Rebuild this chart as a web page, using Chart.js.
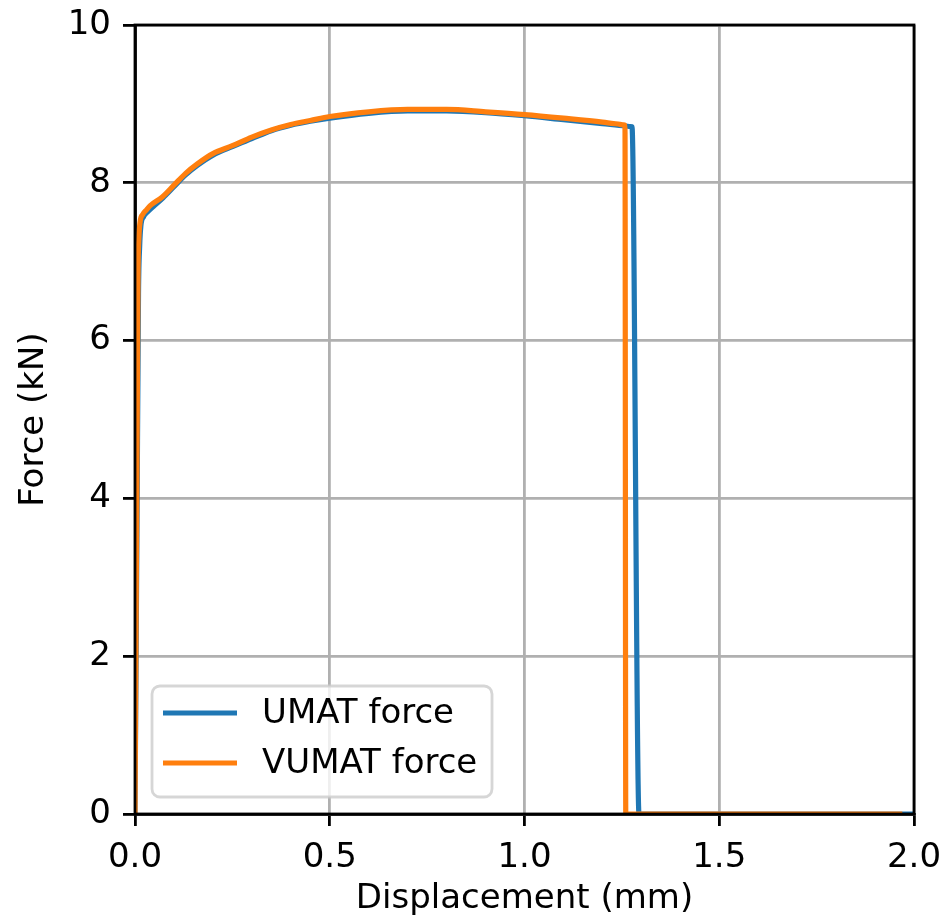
<!DOCTYPE html>
<html>
<head>
<meta charset="utf-8">
<script src="https://cdn.jsdelivr.net/npm/chart.js@4/dist/chart.umd.min.js"></script>
<style>
  html, body { margin: 0; padding: 0; background: #fff; }
  canvas { display: block; }
</style>
</head>
<body>
<canvas id="forceChart" width="949" height="920"></canvas>
<script>
// Force-displacement curves, UMAT vs VUMAT
const umatDisp = [0, 0.005, 0.009, 0.012, 0.015, 0.022, 0.032, 0.047, 0.072, 0.1, 0.13, 0.16, 0.2, 0.25, 0.3, 0.35, 0.4, 0.45, 0.5, 0.6, 0.7, 0.8, 0.9, 1.0, 1.1, 1.2, 1.26, 1.272, 1.276, 1.294, 2.0];
const umatForce = [0, 3.6, 6.6, 7.2, 7.45, 7.57, 7.63, 7.7, 7.81, 7.95, 8.1, 8.22, 8.35, 8.46, 8.56, 8.66, 8.73, 8.78, 8.82, 8.88, 8.91, 8.91, 8.89, 8.85, 8.8, 8.75, 8.72, 8.712, 8.71, 0, 0];

const vumatDisp = [0, 0.004, 0.008, 0.010, 0.013, 0.02, 0.03, 0.039, 0.07, 0.1, 0.13, 0.16, 0.2, 0.25, 0.3, 0.35, 0.4, 0.45, 0.5, 0.6, 0.7, 0.8, 0.9, 1.0, 1.1, 1.2, 1.245, 1.255, 1.258, 1.26, 1.97];
const vumatForce = [0, 3.5, 6.9, 7.3, 7.5, 7.6, 7.66, 7.71, 7.82, 7.97, 8.12, 8.24, 8.37, 8.47, 8.58, 8.67, 8.74, 8.79, 8.84, 8.9, 8.93, 8.93, 8.9, 8.865, 8.82, 8.77, 8.74, 8.733, 8.73, 0, 0];

const xTicks = [0, 0.5, 1.0, 1.5, 2.0];
const yTicks = [0, 2, 4, 6, 8, 10];

const seriesLabels = ['UMAT force', 'VUMAT force'];
const seriesColors = ['#1f77b4', '#ff7f0e'];

const toPoints = (xs, ys) => xs.map((x, i) => ({ x: x, y: ys[i] }));

const FONT = 'DejaVu Sans';
const LW = 2.8;

// matplotlib-style frame and inside legend
const framePlugin = {
    id: 'frame',
    afterDatasetsDraw(chart) {
        const { ctx, chartArea: a } = chart;
        ctx.save();
        ctx.strokeStyle = '#000';
        ctx.lineWidth = LW;
        ctx.strokeRect(a.left, a.top, a.right - a.left, a.bottom - a.top);

        // legend box
        const bx = 152, by = 686, bw = 340, bh = 111, r = 8;
        ctx.beginPath();
        ctx.roundRect(bx, by, bw, bh, r);
        ctx.fillStyle = 'rgba(255,255,255,0.8)';
        ctx.fill();
        ctx.strokeStyle = 'rgba(204,204,204,0.8)';
        ctx.lineWidth = LW;
        ctx.stroke();

        ctx.font = '34px "' + FONT + '"';
        ctx.textBaseline = 'middle';
        ctx.textAlign = 'left';
        seriesLabels.forEach((label, i) => {
            const ly = 713 + i * 50;
            ctx.beginPath();
            ctx.moveTo(163, ly);
            ctx.lineTo(237, ly);
            ctx.strokeStyle = seriesColors[i];
            ctx.lineWidth = 5.2;
            ctx.stroke();
            ctx.fillStyle = '#000';
            ctx.fillText(label, 262, ly + 1);
        });
        ctx.restore();
    }
};

const axisCommon = {
    type: 'linear',
    grid: {
        color: '#b0b0b0',
        lineWidth: LW,
        tickColor: '#000',
        tickWidth: LW,
        tickLength: 12
    },
    border: { display: true, color: '#000', width: LW },
    ticks: {
        color: '#000',
        font: { family: FONT, size: 34 },
        padding: 12
    },
    title: {
        display: true,
        color: '#000',
        font: { family: FONT, size: 34 }
    }
};

new Chart(document.getElementById('forceChart'), {
    type: 'line',
    data: {
        datasets: [
            {
                label: seriesLabels[0],
                data: toPoints(umatDisp, umatForce),
                borderColor: seriesColors[0],
                borderWidth: 5.2,
                pointRadius: 0,
                cubicInterpolationMode: 'monotone',
                order: 1
            },
            {
                label: seriesLabels[1],
                data: toPoints(vumatDisp, vumatForce),
                borderColor: seriesColors[1],
                borderWidth: 5.2,
                pointRadius: 0,
                cubicInterpolationMode: 'monotone',
                order: 0
            }
        ]
    },
    options: {
        responsive: false,
        animation: false,
        layout: { padding: { top: 25, right: 35, left: 0, bottom: 0 } },
        plugins: {
            legend: { display: false },
            tooltip: { enabled: false }
        },
        scales: {
            x: {
                ...axisCommon,
                min: 0,
                max: 2,
                afterBuildTicks: (scale) => { scale.ticks = xTicks.map(v => ({ value: v })); },
                ticks: { ...axisCommon.ticks, callback: (v) => v.toFixed(1) },
                title: { ...axisCommon.title, text: 'Displacement (mm)', padding: { top: 0, bottom: 0 } },
                afterFit: (scale) => {
                    scale.height = 106;
                    scale.paddingLeft = 0;
                    scale.paddingRight = 0;
                }
            },
            y: {
                ...axisCommon,
                min: 0,
                max: 10,
                afterBuildTicks: (scale) => { scale.ticks = yTicks.map(v => ({ value: v })); },
                ticks: { ...axisCommon.ticks, callback: (v) => String(v) },
                title: { ...axisCommon.title, text: 'Force (kN)', padding: { top: 14, bottom: 0 } },
                afterFit: (scale) => {
                    scale.width = 135;
                    scale.paddingTop = 0;
                    scale.paddingBottom = 0;
                }
            }
        }
    },
    plugins: [framePlugin]
});
</script>
</body>
</html>
